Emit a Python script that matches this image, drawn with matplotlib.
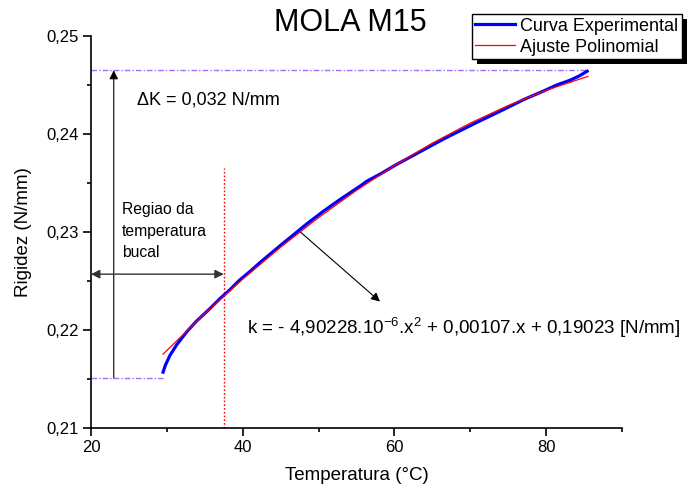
import matplotlib
matplotlib.use("Agg")
import matplotlib.pyplot as plt
from matplotlib.patches import Rectangle
from matplotlib.ticker import MultipleLocator, FuncFormatter

plt.rcParams['font.family'] = ['Liberation Sans', 'DejaVu Sans']
plt.rcParams['mathtext.fontset'] = 'custom'
plt.rcParams['mathtext.rm'] = 'Liberation Sans'
plt.rcParams['mathtext.it'] = 'Liberation Sans:italic'
plt.rcParams['mathtext.default'] = 'regular'

# Experimental curve
exp_x = [29.5, 29.8, 30.4, 31.3, 32.6, 33.9, 34.6, 35.7, 37.0, 38.3, 39.6, 41.0,
         42.3, 45.4, 47.3, 48.4, 50.6, 52.8, 55.5, 56.4, 58.1, 60.3, 63.4, 66.5,
         70.9, 74.4, 77.0, 79.7, 81.4, 83.2, 84.3, 85.4]
exp_y = [0.2157, 0.2164, 0.2174, 0.2185, 0.2198, 0.2209, 0.2214, 0.2222, 0.2232,
         0.2241, 0.2251, 0.2260, 0.2269, 0.2289, 0.2301, 0.2308, 0.2321, 0.2333,
         0.2347, 0.2352, 0.2359, 0.2369, 0.2382, 0.2395, 0.2412, 0.2425, 0.2435,
         0.2444, 0.2450, 0.2455, 0.2459, 0.2464]

# Polynomial fit curve
fit_x = [29.5, 35, 40, 45, 50, 55, 60, 65, 70, 75, 80, 85.5]
fit_y = [0.21753, 0.22168, 0.22519, 0.22845, 0.23147, 0.23425, 0.23678,
         0.23907, 0.24111, 0.24291, 0.24446, 0.24588]

k_low, k_high = 0.2151, 0.2465
x_exp_start, x_exp_end = 29.5, 85.5
x_bucal = 37.5

fig = plt.figure(figsize=(6.88, 4.94), dpi=100)
ax = fig.add_axes([91/688, 1-428/494, (622-91)/688, (428-36)/494])

l1, = ax.plot(exp_x, exp_y, color='#0000ff', lw=2.3, label='Curva Experimental', zorder=3)
l2, = ax.plot(fit_x, fit_y, color='#ff0000', lw=0.9, label='Ajuste Polinomial', zorder=4)

purple = '#a070f0'
ax.plot([20, x_exp_end], [k_high, k_high], color=purple, lw=1, ls=(0, (4, 1.5, 1, 1.5)))
ax.plot([20, x_exp_start], [k_low, k_low], color=purple, lw=1, ls=(0, (4, 1.5, 1, 1.5)))
ax.plot([x_bucal, x_bucal], [0.21, 0.2365], color='#ff0000', lw=1, ls=(0, (1.2, 1.5)))

ax.annotate('', xy=(23, k_high), xytext=(23, k_low),
            arrowprops=dict(arrowstyle='-|>', color='black', lw=0.8,
                            mutation_scale=13, shrinkA=0, shrinkB=0))
ax.annotate('', xy=(20, 0.2257), xytext=(x_bucal, 0.2257),
            arrowprops=dict(arrowstyle='<|-|>', color='#333333', lw=1.0,
                            mutation_scale=13, shrinkA=0, shrinkB=0))
ax.annotate('', xy=(58.1, 0.2229), xytext=(47.6, 0.2300),
            arrowprops=dict(arrowstyle='-|>', color='black', lw=0.8,
                            mutation_scale=13, shrinkA=0, shrinkB=0))

ax.text(26.1, 0.24347, '\u0394K = 0,032 N/mm', fontsize=13, ha='left', va='center')
ax.text(24.1, 0.2301, 'Regiao da\ntemperatura\nbucal', fontsize=11.3, ha='left',
        va='center', linespacing=1.55)
ax.text(40.6, 0.2202, 'k = - 4,90228.10$^{-6}$.x$^{2}$ + 0,00107.x + 0,19023 [N/mm]',
        fontsize=13.5, ha='left', va='center')

ax.set_xlim(20, 90)
ax.set_ylim(0.21, 0.25)
ax.xaxis.set_major_locator(MultipleLocator(20))
ax.xaxis.set_minor_locator(MultipleLocator(10))
ax.yaxis.set_major_locator(MultipleLocator(0.01))
ax.yaxis.set_minor_locator(MultipleLocator(0.005))
ax.yaxis.set_major_formatter(FuncFormatter(lambda v, p: f'{v:.2f}'.replace('.', ',')))
ax.xaxis.set_major_formatter(FuncFormatter(lambda v, p: f'{v:.0f}'))
for s in ['top', 'right']:
    ax.spines[s].set_visible(False)
for s in ['left', 'bottom']:
    ax.spines[s].set_linewidth(1.2)
ax.tick_params(which='major', direction='out', length=5.5, width=1.2, labelsize=12)
ax.tick_params(which='minor', direction='out', length=3, width=1.2)

ax.set_xlabel('Temperatura (\u00b0C)', fontsize=13.5, labelpad=8)
ax.set_ylabel('Rigidez (N/mm)', fontsize=13.5, labelpad=10)
fig.text(350/688, 1-23/494, 'MOLA M15', fontsize=22, ha='center', va='center')

leg = fig.legend([l1, l2], ['Curva Experimental', 'Ajuste Polinomial'],
                 loc='upper right', bbox_to_anchor=(682/688, 1-14/494),
                 bbox_transform=fig.transFigure, borderaxespad=0,
                 frameon=True, fancybox=False, edgecolor='black', framealpha=1,
                 fontsize=13, handlelength=2.2, handletextpad=0.3,
                 labelspacing=0.22, borderpad=0.2)
leg.get_frame().set_linewidth(1.0)
leg.set_zorder(10)
fig.canvas.draw()
bb = leg.get_window_extent()
inv = fig.transFigure.inverted()
(x0, y0), (x1, y1) = inv.transform([[bb.x0 + 5, bb.y0 - 5], [bb.x1 + 5, bb.y1 - 5]])
fig.patches.append(Rectangle((x0, y0), x1 - x0, y1 - y0, transform=fig.transFigure,
                             facecolor='black', edgecolor='none', zorder=9))

fig.savefig('out.png', dpi=100)
